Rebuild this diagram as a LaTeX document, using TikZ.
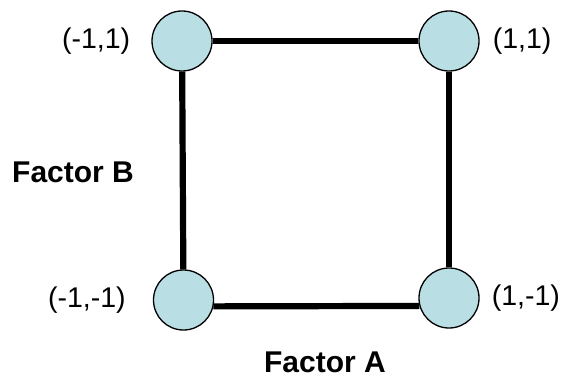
\documentclass[tikz,border=0pt]{standalone}
\usepackage{fontspec}
\setmainfont{Liberation Sans}
\usetikzlibrary{positioning}
\definecolor{pointblue}{RGB}{185,222,228}

\begin{document}
\begin{tikzpicture}[x=1pt,y=1pt,
    point/.style={circle, draw, line width=1.3pt, fill=pointblue, minimum size=60pt, inner sep=0pt},
    coord/.style={inner sep=0pt, font=\fontsize{28.5}{32}\selectfont},
    factor/.style={inner sep=0pt, font=\fontsize{30}{34}\selectfont\bfseries}]
    \useasboundingbox (0,0) rectangle (564,378);

    % Design points
    \node[point] (LH) at (182,337) {};
    \node[point] (HH) at (449,337) {};
    \node[point] (LL) at (183.5,78) {};
    \node[point] (HL) at (449,80) {};

    % Edges
    \draw[line width=6.2pt] (LH) -- (HH);
    \draw[line width=6.2pt] (LH) -- (LL);
    \draw[line width=6.2pt] (HH) -- (HL);
    \draw[line width=6.2pt] (LL.-12) -- (HL.195);

    % Point labels
    \node[coord, left=21pt of LH] (lLH) {(-1,1)};
    \node[coord, right=13pt of HH] (lHH) {(1,1)};
    \node[coord, left=27pt of LL] (lLL) {(-1,-1)};
    \node[coord, right=12pt of HL] (lHL) {(1,-1)};

    % Factor labels
    \node[factor, anchor=west] (fB) at (12,206) {Factor B};
    \node[factor] (fA) at (325,16) {Factor A};
\end{tikzpicture}
\end{document}
